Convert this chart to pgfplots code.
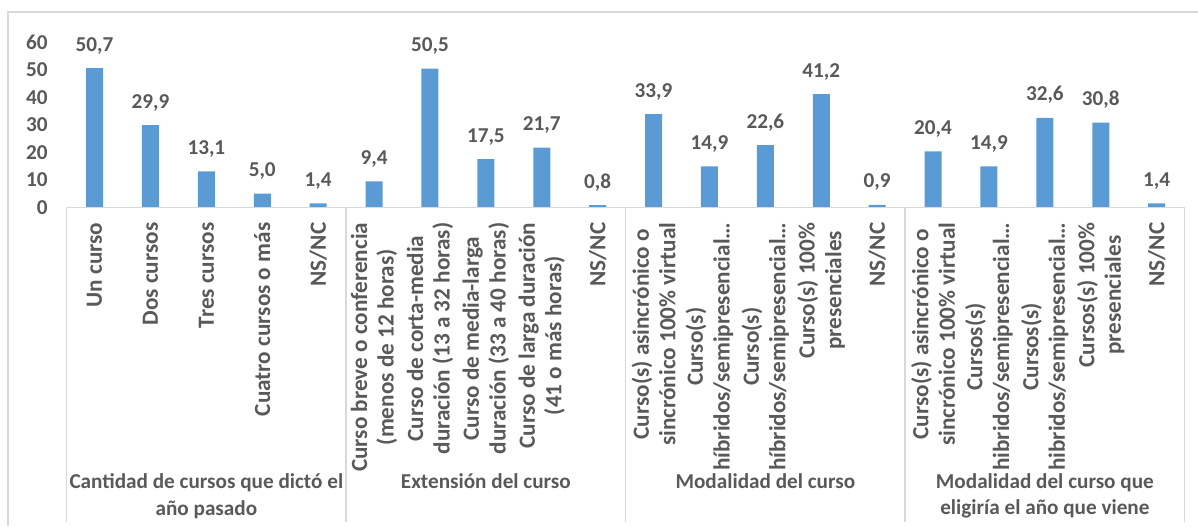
\documentclass[border=0pt]{standalone}
\usepackage{pgfplots}
\pgfplotsset{compat=1.18}
\usepackage{fontspec}
\setmainfont{Carlito}
\definecolor{barc}{HTML}{5B9BD5}
\definecolor{txt}{HTML}{595959}
\definecolor{ln}{HTML}{D9D9D9}
\pgfplotstableread{
x y
0 50.7
1 29.9
2 13.1
3 5.0
4 1.4
5 9.4
6 50.5
7 17.5
8 21.7
9 0.8
10 33.9
11 14.9
12 22.6
13 41.2
14 0.9
15 20.4
16 14.9
17 32.6
18 30.8
19 1.4
}\datatab
\begin{document}
\begin{tikzpicture}[font=\fontsize{10.6}{13.2}\selectfont\bfseries]
\path[use as bounding box] (0,0) rectangle (599pt,263pt);
\draw[ln, line width=0.75pt] (4pt,0) -- (4pt,257pt) -- (599pt,257pt);
\begin{axis}[
 at={(33.3pt,159.35pt)}, anchor=south west,
 scale only axis, width=559pt, height=82.4pt,
 xmin=-0.5, xmax=19.5, ymin=0, ymax=60,
 ytick={0,10,...,60},
 xtick={0,...,19},
 xticklabels={{Un curso},{Dos cursos},{Tres cursos},{Cuatro cursos o más},{NS/NC},
 {Curso breve o conferencia\\(menos de 12 horas)},{Curso de corta-media\\duración (13 a 32 horas)},{Curso de media-larga\\duración (33 a 40 horas)},{Curso de larga duración\\(41 o más horas)},{NS/NC},
 {Curso(s) asincrónico o\\sincrónico 100\% virtual},{Curso(s)\\híbridos/semipresencial…},{Curso(s)\\híbridos/semipresencial…},{Curso(s) 100\%\\presenciales},{NS/NC},
 {Curso(s) asincrónico o\\sincrónico 100\% virtual},{Cursos(s)\\hibridos/semipresencial…},{Cursos(s)\\hibridos/semipresencial…},{Cursos(s) 100\%\\presenciales},{NS/NC}},
 xticklabel style={rotate=90, anchor=east, align=center, text=txt, inner sep=0pt, font=\fontsize{11.6}{13.3}\selectfont\bfseries},
 xticklabel shift=7.5pt,
 yticklabel style={text=txt, font=\fontsize{10.6}{13}\selectfont\bfseries, xshift=-6pt},
 major tick length=0pt,
 axis line style={draw=none},
 clip=false,
 /pgf/number format/assume math mode=true,
 /pgf/number format/use comma,
 nodes near coords,
 nodes near coords style={text=txt, font=\fontsize{10.6}{13}\selectfont\bfseries, anchor=south, yshift=3.5pt, /pgf/number format/.cd, fixed, fixed zerofill, precision=1, use comma, assume math mode=true},
]
\addplot[ybar, bar width=8.5pt, fill=barc, draw=none] table[x=x,y=y] {\datatab};
\draw[ln, line width=0.75pt] (axis cs:-0.5,0) -- (axis cs:19.5,0);
\draw[ln, line width=0.75pt] (axis cs:-0.5,0) -- ++(0pt,-157.5pt);
\draw[ln, line width=0.75pt] (axis cs:4.5,0) -- ++(0pt,-157.5pt);
\draw[ln, line width=0.75pt] (axis cs:9.5,0) -- ++(0pt,-157.5pt);
\draw[ln, line width=0.75pt] (axis cs:14.5,0) -- ++(0pt,-157.5pt);
\draw[ln, line width=0.75pt] (axis cs:19.5,0) -- ++(0pt,-157.5pt);
\node[anchor=north, align=center, text=txt, inner sep=0pt] at ([yshift=-133pt]axis cs:2,0) {Cantidad de cursos que dictó el\\año pasado};
\node[anchor=north, align=center, text=txt, inner sep=0pt] at ([yshift=-133pt]axis cs:7,0) {Extensión del curso};
\node[anchor=north, align=center, text=txt, inner sep=0pt] at ([yshift=-133pt]axis cs:12,0) {Modalidad del curso};
\node[anchor=north, align=center, text=txt, inner sep=0pt] at ([yshift=-133pt]axis cs:17,0) {Modalidad del curso que\\eligiría el año que viene};
\end{axis}
\end{tikzpicture}
\end{document}
